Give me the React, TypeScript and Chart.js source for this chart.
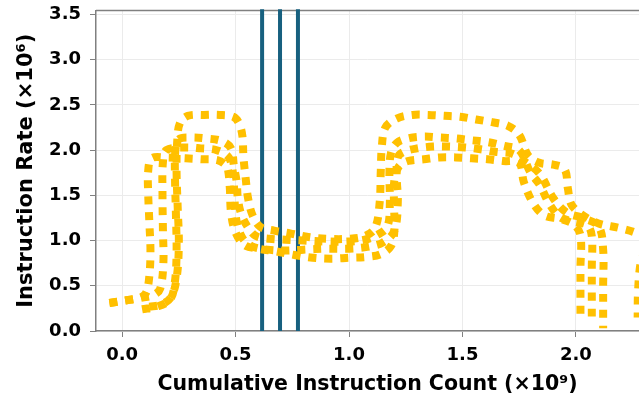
import { useEffect, useRef } from "react";
import { Chart, registerables } from "chart.js";

Chart.register(...registerables);

// Axis ticks
const xTicks = [0, 0.5, 1.0, 1.5, 2.0];
const yTicks = [0, 0.5, 1.0, 1.5, 2.0, 2.5, 3.0, 3.5];

// Phase markers (cumulative instruction count, ×10⁹)
const markerX = [0.617, 0.696, 0.775];

// Trace A (highest plateau)
const traceAX = [0.12, 0.17, 0.215, 0.24, 0.25, 0.245, 0.24, 0.243, 0.255, 0.29, 0.36, 0.43, 0.49, 0.515, 0.53, 0.535, 0.545, 0.555, 0.575, 0.61, 0.67, 0.74, 0.82, 0.9, 1.0, 1.07, 1.115, 1.135, 1.14, 1.145, 1.16, 1.21, 1.28, 1.35, 1.42, 1.49, 1.56, 1.63, 1.7, 1.75, 1.79, 1.84, 1.9, 1.95, 1.965, 1.98, 2.03, 2.1, 2.19, 2.26, 2.3, 2.305, 2.285, 2.274, 2.272];
const traceAY = [0.27, 0.29, 0.37, 0.58, 0.96, 1.37, 1.77, 2.1, 2.3, 2.38, 2.39, 2.39, 2.37, 2.3, 2.16, 1.92, 1.68, 1.47, 1.28, 1.15, 1.11, 1.08, 1.04, 1.02, 1.02, 1.05, 1.14, 1.42, 1.77, 2.05, 2.25, 2.35, 2.39, 2.39, 2.38, 2.37, 2.34, 2.31, 2.27, 2.17, 1.94, 1.86, 1.84, 1.79, 1.57, 1.4, 1.28, 1.19, 1.14, 1.09, 1.03, 0.91, 0.75, 0.45, 0.15];

// Trace B
const traceBX = [0.088, 0.154, 0.212, 0.232, 0.24, 0.237, 0.233, 0.235, 0.25, 0.3, 0.37, 0.44, 0.48, 0.493, 0.505, 0.51, 0.524, 0.554, 0.59, 0.65, 0.72, 0.8, 0.9, 1.0, 1.07, 1.13, 1.17, 1.18, 1.178, 1.185, 1.21, 1.26, 1.33, 1.4, 1.47, 1.54, 1.61, 1.68, 1.75, 1.8, 1.84, 1.88, 1.93, 1.99, 2.05, 2.07, 2.07, 2.07, 2.07];
const traceBY = [0.24, 0.27, 0.35, 0.53, 0.86, 1.31, 1.72, 2.0, 2.12, 2.14, 2.13, 2.1, 2.02, 1.82, 1.65, 1.47, 1.3, 1.15, 1.05, 1.02, 1.01, 1.0, 0.99, 0.99, 1.01, 1.07, 1.16, 1.42, 1.74, 1.97, 2.08, 2.13, 2.15, 2.14, 2.13, 2.11, 2.09, 2.05, 2.0, 1.75, 1.62, 1.42, 1.26, 1.21, 1.17, 1.05, 0.7, 0.35, 0.1];

// Trace C
const traceCX = [-0.056, 0.02, 0.09, 0.14, 0.168, 0.182, 0.18, 0.178, 0.18, 0.195, 0.277, 0.347, 0.417, 0.47, 0.49, 0.495, 0.505, 0.53, 0.57, 0.64, 0.72, 0.8, 0.9, 1.0, 1.08, 1.15, 1.2, 1.215, 1.21, 1.215, 1.24, 1.3, 1.37, 1.44, 1.51, 1.58, 1.65, 1.72, 1.77, 1.84, 1.9, 1.96, 2.03, 2.1, 2.12, 2.12, 2.12, 2.12];
const traceCY = [0.31, 0.34, 0.37, 0.4, 0.47, 0.76, 1.11, 1.52, 1.87, 2.0, 2.03, 2.02, 2.0, 1.92, 1.72, 1.47, 1.21, 1.03, 0.94, 0.9, 0.89, 0.9, 0.91, 0.91, 0.93, 0.98, 1.11, 1.42, 1.72, 1.92, 1.98, 2.02, 2.04, 2.04, 2.03, 2.01, 1.98, 1.96, 1.88, 1.74, 1.47, 1.31, 1.25, 1.16, 0.9, 0.5, 0.2, 0.03];

// Trace D (lowest plateau)
const traceDX = [-0.056, 0.02, 0.08, 0.105, 0.118, 0.125, 0.12, 0.115, 0.115, 0.13, 0.19, 0.28, 0.35, 0.42, 0.455, 0.467, 0.475, 0.48, 0.5, 0.54, 0.6, 0.68, 0.76, 0.84, 0.92, 1.0, 1.08, 1.14, 1.185, 1.2, 1.198, 1.2, 1.22, 1.26, 1.33, 1.4, 1.47, 1.54, 1.61, 1.68, 1.75, 1.77, 1.81, 1.86, 1.93, 1.99, 2.02, 2.02, 2.02, 2.02];
const traceDY = [0.31, 0.34, 0.37, 0.42, 0.56, 0.86, 1.21, 1.52, 1.77, 1.91, 1.92, 1.91, 1.9, 1.89, 1.84, 1.78, 1.57, 1.31, 1.09, 0.95, 0.91, 0.88, 0.84, 0.81, 0.8, 0.81, 0.82, 0.85, 0.94, 1.11, 1.42, 1.67, 1.82, 1.88, 1.9, 1.92, 1.92, 1.91, 1.9, 1.88, 1.86, 1.65, 1.42, 1.28, 1.24, 1.18, 1.06, 0.7, 0.35, 0.15];

const TRACE_COLOR = "#FFC000";
const MARKER_COLOR = "#17607f";
const FONT = "'DejaVu Sans', sans-serif";

function toPoints(xs: number[], ys: number[]) {
  return xs.map((x, i) => ({ x, y: ys[i] }));
}

function traceDataset(xs: number[], ys: number[]) {
  return {
    data: toPoints(xs, ys),
    borderColor: TRACE_COLOR,
    backgroundColor: TRACE_COLOR,
    borderWidth: 8,
    borderDash: [8, 8],
    borderCapStyle: "butt" as const,
    pointRadius: 0,
    tension: 0.35,
    fill: false,
    clip: 0,
  };
}

function markerDataset(x: number) {
  return {
    data: [
      { x, y: 0 },
      { x, y: 3.56 },
    ],
    borderColor: MARKER_COLOR,
    borderWidth: 4,
    pointRadius: 0,
    tension: 0,
    fill: false,
    clip: false as const,
  };
}

const topBorder = {
  id: "topBorder",
  beforeDatasetsDraw(chart: Chart) {
    const { ctx, chartArea } = chart;
    ctx.save();
    ctx.strokeStyle = "#808080";
    ctx.lineWidth = 1.5;
    ctx.beginPath();
    ctx.moveTo(chartArea.left, chartArea.top);
    ctx.lineTo(chartArea.right, chartArea.top);
    ctx.stroke();
    ctx.restore();
  },
};

export default function App() {
  const canvasRef = useRef<HTMLCanvasElement | null>(null);

  useEffect(() => {
    if (!canvasRef.current) return;
    const chart = new Chart(canvasRef.current, {
      type: "line",
      data: {
        datasets: [
          traceDataset(traceAX, traceAY),
          traceDataset(traceBX, traceBY),
          traceDataset(traceCX, traceCY),
          traceDataset(traceDX, traceDY),
          ...markerX.map(markerDataset),
        ],
      },
      plugins: [topBorder],
      options: {
        animation: false,
        responsive: true,
        maintainAspectRatio: false,
        layout: { padding: { top: 10.5, right: 0, bottom: 0, left: 0 } },
        plugins: {
          legend: { display: false },
          tooltip: { enabled: false },
        },
        scales: {
          x: {
            type: "linear",
            min: -0.115,
            max: 2.278,
            afterBuildTicks: (axis: any) => {
              axis.ticks = xTicks.map((value) => ({ value }));
            },
            afterFit: (axis: any) => {
              axis.height = 68;
              axis.paddingLeft = 0;
              axis.paddingRight = 0;
            },
            ticks: {
              color: "#000",
              padding: 8,
              font: { family: FONT, size: 18, weight: "bold" },
              callback: (v: any) => Number(v).toFixed(1),
            },
            grid: {
              color: "#ebebeb",
              lineWidth: 1,
              tickColor: "#808080",
              tickLength: 6,
            },
            border: { display: true, color: "#808080", width: 1.5 },
            title: {
              display: true,
              text: "Cumulative Instruction Count (×10⁹)",
              color: "#000",
              font: { family: FONT, size: 20.5, weight: "bold" },
              padding: { top: 0, bottom: 2 },
            },
          },
          y: {
            type: "linear",
            min: 0,
            max: 3.545,
            afterBuildTicks: (axis: any) => {
              axis.ticks = yTicks.map((value) => ({ value }));
            },
            afterFit: (axis: any) => {
              axis.width = 96;
              axis.paddingTop = 0;
              axis.paddingBottom = 0;
            },
            ticks: {
              color: "#000",
              padding: 9,
              font: { family: FONT, size: 18, weight: "bold" },
              callback: (v: any) => Number(v).toFixed(1),
            },
            grid: {
              color: "#ebebeb",
              lineWidth: 1,
              tickColor: "#808080",
              tickLength: 6,
            },
            border: { display: true, color: "#808080", width: 1.5 },
            title: {
              display: true,
              text: "Instruction Rate (×10⁶)",
              color: "#000",
              font: { family: FONT, size: 21, weight: "bold" },
              padding: { top: 14, bottom: 0 },
            },
          },
        },
      },
    });
    return () => chart.destroy();
  }, []);

  return (
    <div style={{ position: "fixed", left: 0, top: 0, width: 639, height: 399, background: "#fff" }}>
      <canvas ref={canvasRef} />
    </div>
  );
}
